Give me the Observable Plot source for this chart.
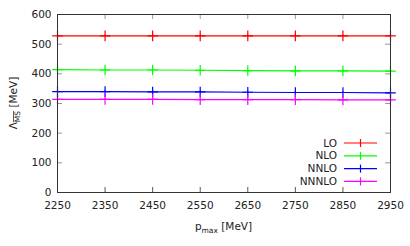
<!DOCTYPE html>
<html>
<head>
<meta charset="utf-8">
<script src="https://cdn.jsdelivr.net/npm/d3@7"></script>
<script src="https://cdn.jsdelivr.net/npm/@observablehq/plot@0.6"></script>
<style>
  html, body { margin: 0; padding: 0; background: #fff; }
  #chart { position: relative; width: 410px; height: 246px; }
</style>
</head>
<body>
<div id="chart"></div>
<script>
const pmax = [2250, 2350, 2450, 2550, 2650, 2750, 2850, 2950];
const seriesNames = ["LO", "NLO", "NNLO", "NNNLO"];
const seriesColors = ["#ff0000", "#00ff00", "#0000ff", "#ff00ff"];
const LO    = [528, 528, 528, 528, 528, 528, 528, 528];
const NLO   = [414, 413, 413, 412, 411, 410, 410, 409];
const NNLO  = [340, 340, 339, 339, 338, 337, 337, 336];
const NNNLO = [314, 314, 314, 313, 313, 313, 312, 312];
const errs  = [3, 3, 3, 3];
const xTicks = [2250, 2350, 2450, 2550, 2650, 2750, 2850, 2950];
const yTicks = [0, 100, 200, 300, 400, 500, 600];

const seriesValues = [LO, NLO, NNLO, NNNLO];
const rows = [];
seriesNames.forEach((name, i) => {
  pmax.forEach((p, j) => rows.push({series: name, p, v: seriesValues[i][j], e: errs[i]}));
});

const W = 410, H = 246;
const mt = 14, mb = 54, ml = 57, mr = 20;
const innerH = H - mt - mb, innerW = W - ml - mr;
const tick = 5;
const font = "DejaVu Sans, sans-serif";

const plot = Plot.plot({
  width: W, height: H,
  marginTop: mt, marginBottom: mb, marginLeft: ml, marginRight: mr,
  style: {fontFamily: font, fontSize: "10.5px", color: "#222", background: "#fff"},
  x: {domain: [2250, 2950]},
  y: {domain: [0, 600]},
  color: {domain: seriesNames, range: seriesColors},
  marks: [
    Plot.tickX(xTicks, {x: d => d, insetTop: innerH - tick, stroke: "#555", strokeWidth: 1}),
    Plot.tickX(xTicks, {x: d => d, insetBottom: innerH - tick, stroke: "#999", strokeWidth: 1}),
    Plot.tickY(yTicks, {y: d => d, insetRight: innerW - tick, stroke: "#999", strokeWidth: 1}),
    Plot.tickY(yTicks, {y: d => d, insetLeft: innerW - tick, stroke: "#999", strokeWidth: 1}),
    Plot.axisX(xTicks, {tickSize: 0, tickPadding: 9, fontSize: 10.5, label: null, tickFormat: d3.format("d")}),
    Plot.axisY(yTicks, {tickSize: 0, tickPadding: 6, fontSize: 10.5, label: null, tickFormat: d3.format("d")}),
    Plot.lineY(rows, {x: "p", y: "v", z: "series", stroke: "series", strokeWidth: 1.2}),
    Plot.ruleX(rows, {x: "p", y1: d => d.v - d.e, y2: d => d.v + d.e, stroke: "series", strokeWidth: 1.2}),
    Plot.dot(rows, {x: "p", y: "v", symbol: "plus", r: 3.5, stroke: "series", strokeWidth: 1.2}),
    Plot.frame({stroke: "#333", strokeWidth: 1})
  ]
});

const svg = d3.select(plot);
const yl = svg.append("text")
  .attr("transform", `translate(17,${mt + innerH / 2}) rotate(-90)`)
  .attr("text-anchor", "middle")
  .attr("font-family", font).attr("font-size", 10.5).attr("fill", "#222");
yl.append("tspan").text("Λ");
yl.append("tspan").attr("font-size", 7.5).attr("dy", 3)
  .attr("text-decoration", "overline").text("MS");
yl.append("tspan").attr("dy", -3).text(" [MeV]");

const xl = svg.append("text")
  .attr("x", ml + innerW / 2).attr("y", 230)
  .attr("text-anchor", "middle")
  .attr("font-family", font).attr("font-size", 10.5).attr("fill", "#222");
xl.append("tspan").text("p");
xl.append("tspan").attr("font-size", 7.5).attr("dy", 3).text("max");
xl.append("tspan").attr("dy", -3).text(" [MeV]");

seriesNames.forEach((name, i) => {
  const y = 143 + i * 12.8;
  const g = svg.append("g");
  g.append("text").attr("x", 337).attr("y", y).attr("dy", "0.35em")
    .attr("text-anchor", "end").attr("font-family", font).attr("font-size", 10.5)
    .attr("fill", "#222").text(name);
  g.append("line").attr("x1", 344).attr("x2", 377).attr("y1", y).attr("y2", y)
    .attr("stroke", seriesColors[i]).attr("stroke-width", 1.2);
  g.append("line").attr("x1", 360.5).attr("x2", 360.5).attr("y1", y - 4).attr("y2", y + 4)
    .attr("stroke", seriesColors[i]).attr("stroke-width", 1.2);
});

document.getElementById("chart").appendChild(plot);
</script>
</body>
</html>
